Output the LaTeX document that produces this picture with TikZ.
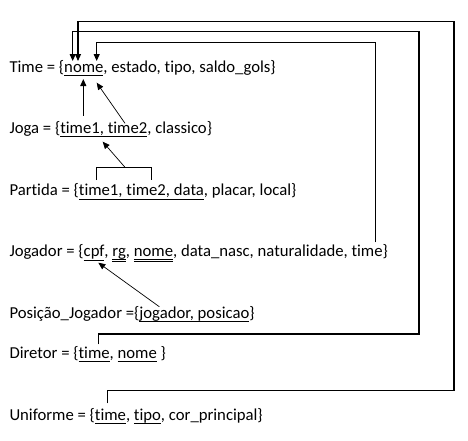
\documentclass[tikz,border=0pt]{standalone}
\usepackage{fontspec}
\setmainfont{Carlito}[Ligatures={NoCommon}]
\usetikzlibrary{arrows.meta,calc}
\begin{document}
\begin{tikzpicture}[x=1pt,y=-1pt,
  txt/.style={inner sep=0pt,outer sep=0pt,anchor=base west,font=\fontsize{16.7}{19}\selectfont},
  ul/.style={line width=0.8pt},
  conn/.style={line width=1.1pt,-{Triangle[length=7pt,width=6pt]}},
  thin/.style={line width=0.7pt,-{Triangle[length=7pt,width=6pt]}},
  brk/.style={line width=1.1pt}]
\useasboundingbox (0,0) rectangle (468,440);
% Time
\node[txt] (a0) at (9.5,72) {Time = \{};
\node[txt] (a1) at (a0.base east) {nome};
\node[txt] (a2) at (a1.base east) {, estado, tipo, saldo\_gols\}};
\draw[ul] ([yshift=-3.5pt]a1.base west) -- ([yshift=-3.5pt]a1.base east);
% Joga
\node[txt] (b0) at (9.5,133) {Joga = \{};
\node[txt] (b1) at (b0.base east) {time1, time2};
\node[txt] (b2) at (b1.base east) {, classico\}};
\draw[ul] ([yshift=-3.5pt]b1.base west) -- ([yshift=-3.5pt]b1.base east);
% Partida
\node[txt] (c0) at (9.5,195) {Partida = \{};
\node[txt] (c1) at (c0.base east) {time1, time2, data};
\node[txt] (c2) at (c1.base east) {, placar, local\}};
\draw[ul] ([yshift=-4pt]c1.base west) -- ([yshift=-4pt]c1.base east);
% Jogador
\node[txt] (d0) at (9.5,256.7) {Jogador = \{};
\node[txt] (d1) at (d0.base east) {cpf};
\node[txt] (d2) at (d1.base east) {, \null};
\node[txt] (d3) at (d2.base east) {rg};
\node[txt] (d4) at (d3.base east) {, \null};
\node[txt] (d5) at (d4.base east) {nome};
\node[txt] (d6) at (d5.base east) {, data\_nasc, naturalidade, \null};
\node[txt] (d7) at (d6.base east) {time};
\node[txt] (d8) at (d7.base east) {\}};
\draw[ul] ([yshift=-4pt]d1.base west) -- ([yshift=-4pt]d1.base east);
\draw[ul] ([yshift=-2.5pt]d3.base west) -- ([yshift=-2.5pt]d3.base east);
\draw[ul] ([yshift=-4.5pt]d3.base west) -- ([yshift=-4.5pt]d3.base east);
\draw[ul] ([yshift=-2.5pt]d5.base west) -- ([yshift=-2.5pt]d5.base east);
\draw[ul] ([yshift=-4.5pt]d5.base west) -- ([yshift=-4.5pt]d5.base east);
% Posicao
\node[txt] (e0) at (9.5,318.3) {Posição\_Jogador =\{};
\node[txt] (e1) at (e0.base east) {jogador, posicao};
\node[txt] (e2) at (e1.base east) {\}};
\draw[ul] ([yshift=-3.5pt]e1.base west) -- ([yshift=-3.5pt]e1.base east);
% Diretor
\node[txt] (f0) at (9.5,358.3) {Diretor = \{};
\node[txt] (f1) at (f0.base east) {time};
\node[txt] (f2) at (f1.base east) {, \null};
\node[txt] (f3) at (f2.base east) {nome};
\node[txt] (f4) at (f3.base east) {\null\ \}};
\draw[ul] ([yshift=-3.5pt]f1.base west) -- ([yshift=-3.5pt]f1.base east);
\draw[ul] ([yshift=-3.5pt]f3.base west) -- ([yshift=-3.5pt]f3.base east);
% Uniforme
\node[txt] (g0) at (9.5,420) {Uniforme = \{};
\node[txt] (g1) at (g0.base east) {time};
\node[txt] (g2) at (g1.base east) {, \null};
\node[txt] (g3) at (g2.base east) {tipo};
\node[txt] (g4) at (g3.base east) {, cor\_principal\}};
\draw[ul] ([yshift=-3.5pt]g1.base west) -- ([yshift=-3.5pt]g1.base east);
\draw[ul] ([yshift=-3.5pt]g3.base west) -- ([yshift=-3.5pt]g3.base east);
% arrow tips at Time.nome
\coordinate (tipA) at (78,61);
\coordinate (tipB) at (72.7,61);
\coordinate (tipC) at (96.7,61);
% loops
\draw[conn] (107.3,403.3) |- (454,390.7) |- (tipA |- 0,21.3) -- (tipA);
\draw[conn] (98.3,344.3) |- (419,334) |- (tipB |- 0,31.7) -- (tipB);
\draw[conn] (375.7,242.3) |- (tipC |- 0,42.3) -- (tipC);
% Joga -> Time
\draw[conn] (83.3,115.7) -- (83.3,79);
\draw[thin] (125,123.3) -- (96.7,82.7);
% Partida -> Joga
\draw[brk] (96.7,180) |- (151.7,167.3) -- (151.7,180);
\draw[thin] (125,167.3) -- (102.7,141.7);
% Posicao -> Jogador
\draw[thin] (159.3,306.7) -- (98.3,262.7);
\end{tikzpicture}
\end{document}
